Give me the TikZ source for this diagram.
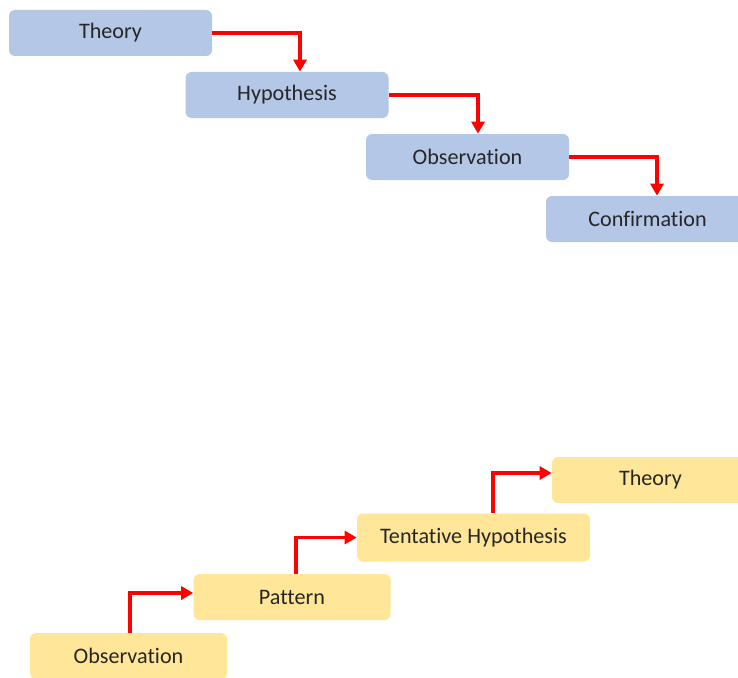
\documentclass[tikz,border=0pt]{standalone}
\usepackage{fontspec}
\setmainfont{Carlito}[Ligatures=NoCommon]
\usepackage{tikz}
\usetikzlibrary{shapes.geometric, arrows.meta}
\definecolor{deductblue}{HTML}{B4C7E7}
\definecolor{inductyellow}{HTML}{FFE699}
\tikzstyle{deduct} = [rectangle, rounded corners=0.12cm, minimum width=4.06cm, minimum height=0.92cm, text centered, fill=deductblue, text=black!85, font=\fontsize{12.6}{14}\selectfont]
\tikzstyle{induct} = [rectangle, rounded corners=0.12cm, minimum width=3.94cm, minimum height=0.92cm, text centered, fill=inductyellow, text=black!85, font=\fontsize{12.6}{14}\selectfont]
\tikzstyle{arrow} = [draw=red, line width=1.9pt, -{Triangle[length=0.24cm, width=0.26cm]}]

\begin{document}
\begin{tikzpicture}
\useasboundingbox (0,0) rectangle (14.76,-13.54);
\clip (0,0) rectangle (14.76,-13.54);
% deduction
\node (theory) [deduct] at (2.21,-0.66) {Theory};
\node (hyp) [deduct] at (5.74,-1.90) {Hypothesis};
\node (obs) [deduct] at (9.35,-3.14) {Observation};
\node (conf) [deduct] at (12.95,-4.38) {Confirmation};
\draw [arrow] (theory.east) -| ([xshift=0.26cm]hyp.north);
\draw [arrow] (hyp.east) -| ([xshift=0.21cm]obs.north);
\draw [arrow] (obs.east) -| ([xshift=0.19cm]conf.north);
% induction
\node (obs2) [induct] at (2.57,-13.12) {Observation};
\node (pattern) [induct] at (5.84,-11.94) {Pattern};
\node (tent) [induct, minimum width=4.66cm, minimum height=0.96cm] at (9.47,-10.75) {Tentative Hypothesis};
\node (theory2) [induct] at (13.01,-9.6) {Theory};
\draw [arrow] ([xshift=0.03cm]obs2.north) |- ([yshift=0.08cm]pattern.west);
\draw [arrow] ([xshift=0.08cm]pattern.north) |- (tent.west);
\draw [arrow] ([xshift=0.39cm]tent.north) |- ([yshift=0.14cm]theory2.west);
\end{tikzpicture}
\end{document}
